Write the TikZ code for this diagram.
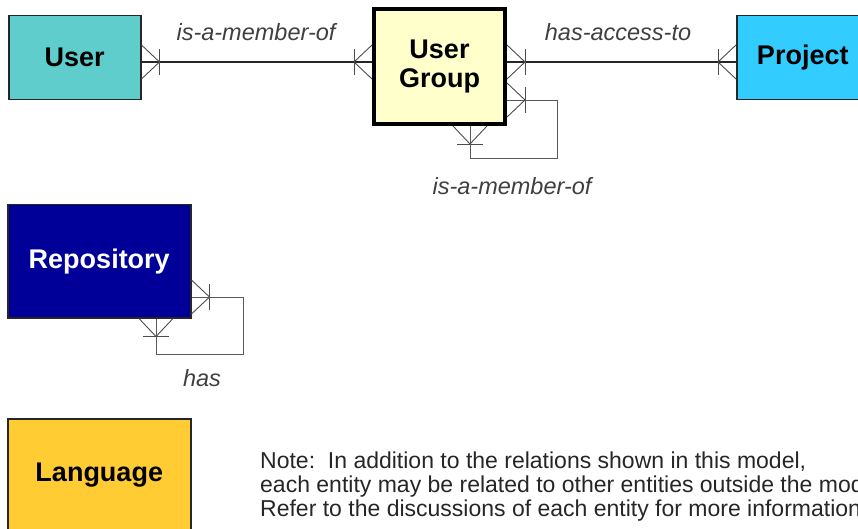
\documentclass[tikz,border=0pt]{standalone}
\usepackage{fontspec}
\setmainfont{Liberation Sans}
\usetikzlibrary{positioning}

\definecolor{usercol}{HTML}{5FCDCB}
\definecolor{groupcol}{HTML}{FFFFCC}
\definecolor{projcol}{HTML}{33CCFF}
\definecolor{repocol}{HTML}{000099}
\definecolor{langcol}{HTML}{FFCC33}

\begin{document}
\begin{tikzpicture}[
    x=1pt, y=-1pt,
    entity/.style={rectangle, draw=black!85, line width=1.5pt, anchor=north west, inner sep=0pt,
      minimum width=132pt, minimum height=84pt, font=\fontsize{27}{29}\selectfont\bfseries},
    rel/.style={draw=black!85, line width=1.6pt},
    selfloop/.style={draw=black!65, line width=0.9pt},
    lbl/.style={font=\fontsize{23.5}{25}\selectfont\itshape, text=black!75},
    crow/.pic={
      \draw[black!70, line width=0.9pt] (0,-17) -- (18,0) -- (0,17);
      \draw[black!70, line width=0.9pt] (18,-13) -- (18,13);
    }
  ]
    \useasboundingbox (0,0) rectangle (858,529);
    \clip (0,0) rectangle (858,529);

    % entities
    \node[entity, fill=usercol] (user) at (8,15) {User};
    \node[entity, fill=groupcol, draw=black, line width=4pt, minimum width=131pt, minimum height=115pt,
      align=center] (ug) at (372,7) {User\\Group};
    \node[entity, fill=projcol] (proj) at (736,15) {Project};
    \node[entity, fill=repocol, text=white, minimum width=183pt, minimum height=113pt] (repo) at (7,204) {Repository};
    \node[entity, fill=langcol, minimum width=183pt, minimum height=113pt] (lang) at (7,418) {Language};

    % helper rows / columns
    \coordinate (toprow) at (0,62);
    \coordinate (ugrow) at (0,100);
    \coordinate (ugcol) at (470,0);
    \coordinate (reporow) at (0,297);
    \coordinate (repocolx) at (156,0);

    % relations
    \draw[rel] (user.east |- toprow) -- (ug.west |- toprow);
    \draw[rel] (ug.east |- toprow) -- (proj.west |- toprow);
    \pic at (user.east |- toprow) {crow};
    \pic[rotate=180] at (ug.west |- toprow) {crow};
    \pic at (ug.east |- toprow) {crow};
    \pic[rotate=180] at (proj.west |- toprow) {crow};

    % self relations
    \draw[selfloop] (ug.east |- ugrow) -- ++(50,0) -- ++(0,58) -| (ug.south -| ugcol);
    \pic at (ug.east |- ugrow) {crow};
    \pic[rotate=-90] at (ug.south -| ugcol) {crow};
    \draw[selfloop] (repo.east |- reporow) -- ++(52,0) -- ++(0,57) -| (repo.south -| repocolx);
    \pic at (repo.east |- reporow) {crow};
    \pic[rotate=-90] at (repo.south -| repocolx) {crow};

    % labels
    \node[lbl] (lmember) at (256,32) {is-a-member-of};
    \node[lbl] (laccess) at (618,32) {has-access-to};
    \node[lbl] (lgroup) at (512,186) {is-a-member-of};
    \node[lbl] (lhas) at (202,378) {has};

    \node[anchor=north west, align=left, inner sep=0pt, text=black!85,
      font=\fontsize{23}{24}\selectfont] (note) at (260,452)
      {Note:\ \ In addition to the relations shown in this model,\\
       each entity may be related to other entities outside the model.\\
       Refer to the discussions of each entity for more information.};
  \end{tikzpicture}
\end{document}
